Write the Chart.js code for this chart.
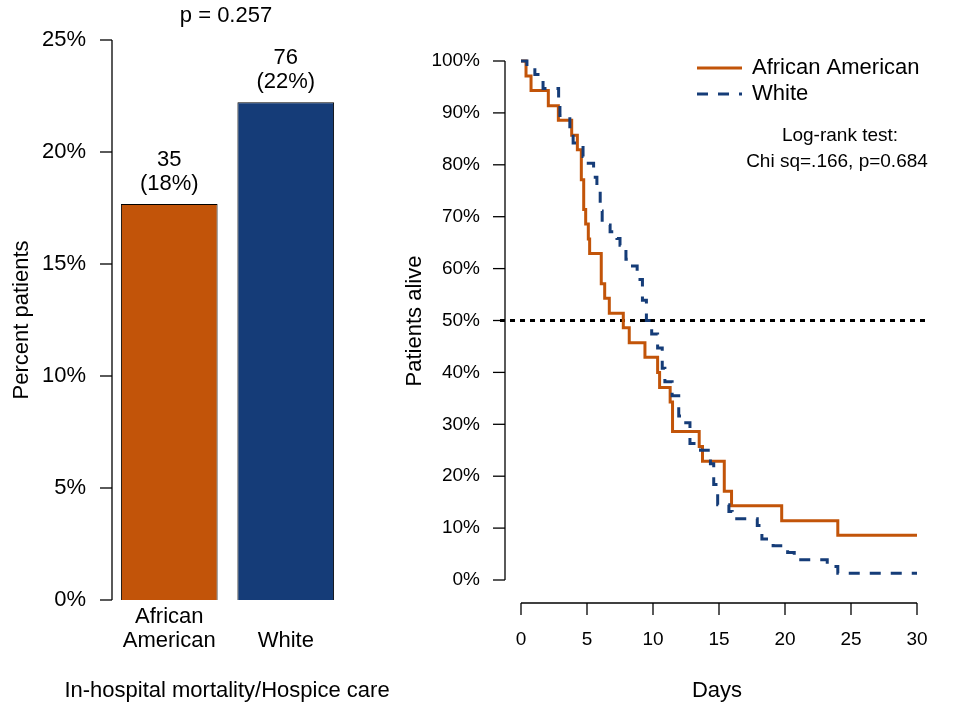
<!DOCTYPE html>
<html>
<head>
<meta charset="utf-8">
<script src="https://cdn.jsdelivr.net/npm/chart.js@4/dist/chart.umd.min.js"></script>
<style>
  body { margin: 0; background: #fff; width: 958px; height: 708px; overflow: hidden; position: relative; }
  canvas { position: absolute; top: 0; }
  #bars { left: 0; }
  #km { left: 400px; }
</style>
</head>
<body>
<canvas id="bars" width="400" height="708"></canvas>
<canvas id="km" width="558" height="708"></canvas>
<script>
// left panel: bar chart
const barGroups = [['African', 'American'], ['White']];
const barPercent = [17.68, 22.22];
const barCounts = [35, 76];
const barPctText = ['(18%)', '(22%)'];
const barTicks = [0, 5, 10, 15, 20, 25];

// right panel: Kaplan-Meier curves (days, % alive)
const kmDaysAA = [0, 0.38, 0.76, 2.07, 2.83, 3.84, 4.27, 4.57, 4.75, 4.9, 5.1, 5.2, 6.08, 6.34, 6.69, 7.75, 8.2, 9.39, 10.35, 10.5, 11.3, 11.48, 13.5, 13.75, 15.4, 15.95, 19.75, 24.0, 30];
const kmSurvAA = [100, 97.1, 94.3, 91.4, 88.6, 85.7, 82.9, 77.1, 71.4, 68.6, 65.7, 62.9, 57.1, 54.3, 51.4, 48.6, 45.7, 42.9, 40.0, 37.1, 34.3, 28.6, 25.7, 22.9, 17.1, 14.3, 11.4, 8.6, 8.6];
const kmDaysWhite = [0, 0.45, 1.05, 1.67, 2.85, 2.95, 3.7, 3.95, 4.7, 4.85, 5.5, 5.75, 6.0, 6.15, 6.75, 7.27, 7.5, 7.95, 8.1, 8.8, 9.2, 9.5, 9.9, 10.35, 10.7, 10.9, 11.45, 11.95, 12.2, 12.8, 13.6, 14.35, 14.6, 14.9, 15.75, 16.0, 17.9, 18.25, 19.1, 20.2, 20.7, 23.2, 24.0, 30];
const kmSurvWhite = [100, 98.7, 97.4, 94.7, 92.1, 89.5, 86.8, 84.2, 81.6, 80.3, 77.6, 75.0, 71.1, 68.4, 67.1, 65.8, 64.5, 61.8, 60.5, 57.9, 53.9, 50.0, 47.4, 44.7, 40.8, 38.2, 35.5, 31.6, 30.3, 26.3, 25.0, 22.4, 18.4, 14.5, 13.2, 11.8, 10.5, 7.9, 6.6, 5.3, 3.9, 2.6, 1.3, 1.3];
const kmXTicks = [0, 5, 10, 15, 20, 25, 30];
const kmYTicks = [0, 10, 20, 30, 40, 50, 60, 70, 80, 90, 100];

const ORANGE = '#C25409';
const NAVY = '#153C78';
const BIG = '22px "Liberation Sans", Arial, sans-serif';
const SMALL = '19px "Liberation Sans", Arial, sans-serif';

function drawText(ctx, s, x, y, font, align, rot) {
  ctx.save();
  ctx.font = font;
  ctx.fillStyle = '#000';
  ctx.textAlign = align || 'center';
  ctx.textBaseline = 'middle';
  ctx.translate(x, y);
  if (rot) ctx.rotate(rot);
  ctx.fillText(s, 0, 0);
  ctx.restore();
}

function line(ctx, x1, y1, x2, y2) {
  ctx.beginPath();
  ctx.moveTo(x1, y1);
  ctx.lineTo(x2, y2);
  ctx.stroke();
}

const barDecor = {
  id: 'barDecor',
  afterDraw(chart) {
    const ctx = chart.ctx;
    const ys = chart.scales.y, xs = chart.scales.x;
    const ax = 112;
    ctx.save();
    ctx.strokeStyle = '#000';
    ctx.lineWidth = 1.3;
    line(ctx, ax, ys.getPixelForValue(0), ax, ys.getPixelForValue(25));
    barTicks.forEach(t => {
      const py = ys.getPixelForValue(t);
      line(ctx, ax - 12, py, ax, py);
      drawText(ctx, t + '%', 86, py, BIG, 'right');
    });
    ctx.restore();
    barPercent.forEach((v, i) => {
      const px = xs.getPixelForValue(i);
      const top = ys.getPixelForValue(v);
      drawText(ctx, String(barCounts[i]), px, top - 44, BIG);
      drawText(ctx, barPctText[i], px, top - 20, BIG);
      const lab = barGroups[i];
      lab.forEach((s, k) => drawText(ctx, s, px, 641 - (lab.length - 1 - k) * 24, BIG));
    });
    drawText(ctx, 'p = 0.257', 226, 16, BIG);
    drawText(ctx, 'In-hospital mortality/Hospice care', 227, 691, BIG);
    drawText(ctx, 'Percent patients', 22, 320, BIG, 'center', -Math.PI / 2);
  }
};

new Chart(document.getElementById('bars'), {
  type: 'bar',
  data: {
    labels: barGroups.map(g => g.join(' ')),
    datasets: [{
      data: barPercent,
      backgroundColor: [ORANGE, NAVY],
      borderColor: '#000',
      borderWidth: 1,
      categoryPercentage: 1,
      barPercentage: 0.83
    }]
  },
  options: {
    responsive: false,
    animation: false,
    layout: { padding: { left: 111, right: 56, top: 40, bottom: 108 } },
    plugins: { legend: { display: false }, tooltip: { enabled: false } },
    scales: {
      x: { display: false },
      y: { display: false, min: 0, max: 25 }
    }
  },
  plugins: [barDecor]
});

const kmDecor = {
  id: 'kmDecor',
  beforeDatasetsDraw(chart) {
    const ctx = chart.ctx;
    const ys = chart.scales.y;
    const py = ys.getPixelForValue(50);
    ctx.save();
    ctx.strokeStyle = '#000';
    ctx.lineWidth = 3;
    ctx.setLineDash([5, 5]);
    line(ctx, 100, py, 527, py);
    ctx.restore();
  },
  afterDraw(chart) {
    const ctx = chart.ctx;
    const ys = chart.scales.y, xs = chart.scales.x;
    const ax = 105, ay = 603;
    ctx.save();
    ctx.strokeStyle = '#000';
    ctx.lineWidth = 1.3;
    line(ctx, ax, ys.getPixelForValue(0), ax, ys.getPixelForValue(100));
    kmYTicks.forEach(t => {
      const py = ys.getPixelForValue(t);
      line(ctx, ax - 12, py, ax, py);
      drawText(ctx, t + '%', 80, py, SMALL, 'right');
    });
    line(ctx, xs.getPixelForValue(0), ay, xs.getPixelForValue(30), ay);
    kmXTicks.forEach(t => {
      const px = xs.getPixelForValue(t);
      line(ctx, px, ay, px, ay + 12);
      drawText(ctx, String(t), px, 640, SMALL);
    });
    // legend
    ctx.lineWidth = 3;
    ctx.strokeStyle = ORANGE;
    line(ctx, 297, 68, 342, 68);
    ctx.strokeStyle = NAVY;
    ctx.setLineDash([11, 10]);
    line(ctx, 297, 94, 342, 94);
    ctx.restore();
    drawText(ctx, 'African American', 352, 68, BIG, 'left');
    drawText(ctx, 'White', 352, 94, BIG, 'left');
    drawText(ctx, 'Log-rank test:', 440, 136, SMALL);
    drawText(ctx, 'Chi sq=.166, p=0.684', 437, 162, SMALL);
    drawText(ctx, 'Days', 317, 691, BIG);
    drawText(ctx, 'Patients alive', 15, 321, BIG, 'center', -Math.PI / 2);
  }
};

function pts(days, surv) {
  return days.map((d, i) => ({ x: d, y: surv[i] }));
}

new Chart(document.getElementById('km'), {
  type: 'line',
  data: {
    datasets: [
      {
        label: 'White',
        data: pts(kmDaysWhite, kmSurvWhite),
        borderColor: NAVY,
        borderWidth: 3,
        borderDash: [11, 10],
        stepped: true,
        pointRadius: 0,
        clip: false,
        order: 0
      },
      {
        label: 'African American',
        data: pts(kmDaysAA, kmSurvAA),
        borderColor: ORANGE,
        borderWidth: 3,
        stepped: true,
        pointRadius: 0,
        clip: false,
        order: 1
      }
    ]
  },
  options: {
    responsive: false,
    animation: false,
    layout: { padding: { left: 121, right: 41, top: 61, bottom: 128 } },
    plugins: { legend: { display: false }, tooltip: { enabled: false } },
    scales: {
      x: { type: 'linear', display: false, min: 0, max: 30 },
      y: { display: false, min: 0, max: 100 }
    }
  },
  plugins: [kmDecor]
});
</script>
</body>
</html>
